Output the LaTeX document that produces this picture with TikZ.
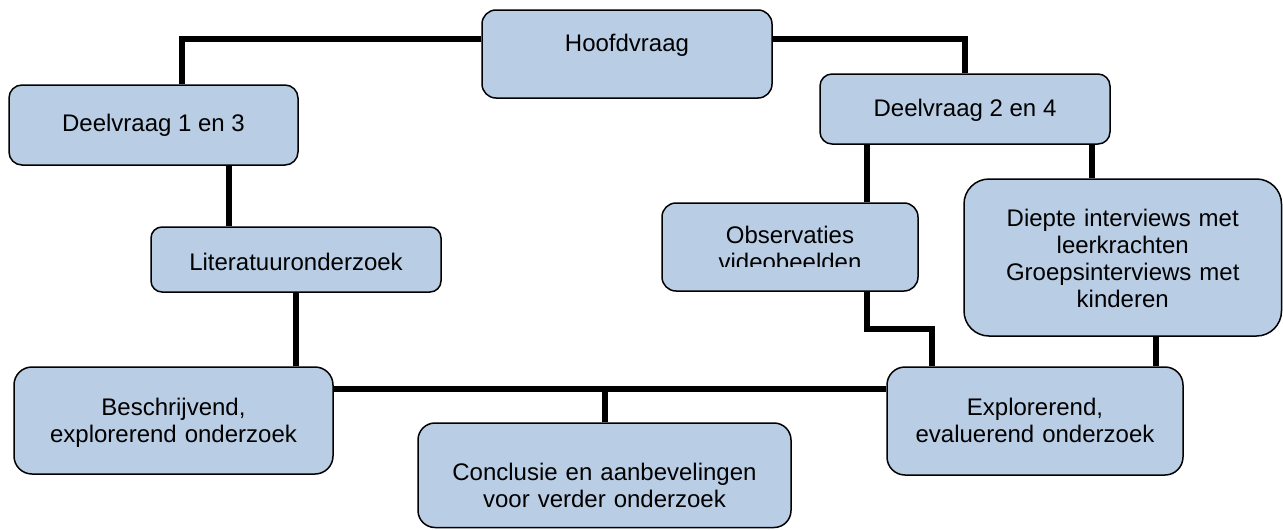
\documentclass[tikz,border=0pt]{standalone}
\usepackage{fontspec}
\setmainfont{Liberation Sans}
\definecolor{vakblauw}{RGB}{185,205,229}

\begin{document}
\begin{tikzpicture}[x=1pt,y=-1pt,line join=miter,
        vak/.style={draw,line width=1.5pt,fill=vakblauw,inner sep=0pt,align=center,
                font=\fontsize{24}{27}\selectfont},
        lijn/.style={line width=6pt}]
        \useasboundingbox (0,0) rectangle (1283,530);

        % draw the boxes
        \node[vak,rounded corners=14pt,minimum width=290pt,text height=41pt,text depth=47pt] (hoofd) at (627,54) {Hoofdvraag};
        \node[vak,rounded corners=13pt,minimum width=289pt,text height=46pt,text depth=34pt] (dv13) at (153.5,125) {Deelvraag 1 en 3};
        \node[vak,rounded corners=12pt,minimum width=290pt,text height=42pt,text depth=28pt] (dv24) at (965,109) {Deelvraag 2 en 4};
        \node[vak,rounded corners=11pt,minimum width=290pt,text height=43pt,text depth=22pt] (lit) at (296,259.5) {Literatuuronderzoek};
        \node[vak,rounded corners=14pt,minimum width=256pt,text width=240pt,text height=40pt,text depth=48pt] (obs) at (790,247) {Observaties\\videobeelden};
        \node[vak,rounded corners=25pt,minimum width=317.5pt,text width=300pt,text height=47pt,text depth=110pt] (diep) at (1122.75,257.5) {Diepte interviews met\\leerkrachten\\Groepsinterviews met\\kinderen};
        \node[vak,rounded corners=18pt,minimum width=319pt,text width=300pt,text height=48pt,text depth=59pt] (besch) at (173.5,420.5) {Beschrijvend,\\explorerend onderzoek};
        \node[vak,rounded corners=17pt,minimum width=373pt,text width=360pt,text height=57pt,text depth=47.5pt] (concl) at (604.5,475.25) {Conclusie en aanbevelingen\\voor verder onderzoek};
        \node[vak,rounded corners=18pt,minimum width=296pt,text width=280pt,text height=48pt,text depth=60pt] (expl) at (1035,421) {Explorerend,\\evaluerend onderzoek};

        % the cut-off bottom of the second line
        \fill[vakblauw] (712,266.5) rectangle (862,273);

        % draw the connectors
        \coordinate (dv13voet) at ([xshift=75pt]dv13.south);
        \coordinate (obskop) at ([xshift=77pt]obs.north);
        \coordinate (diepkop) at ([xshift=-31pt]diep.north);
        \coordinate (diepvoet) at ([xshift=33pt]diep.south);
        \coordinate (lijn) at ([yshift=31.5pt]besch.east);

        \draw[lijn] ([yshift=15pt]hoofd.west) -| ([xshift=28.5pt]dv13.north);
        \draw[lijn] ([yshift=15pt]hoofd.east) -| (dv24.north);
        \draw[lijn] (lijn) -- (lijn -| expl.west);
        \draw[lijn] ([xshift=77pt]obs.south) -- ++(0,37) -| ([xshift=-103pt]expl.north);

        \foreach \van/\naar in {dv13voet/lit.north, lit.south/besch.north,
                obskop/dv24.south, diepkop/dv24.south, diepvoet/expl.north, concl.north/lijn}
                \draw[lijn] (\van) -- (\van |- \naar);

\end{tikzpicture}
\end{document}
